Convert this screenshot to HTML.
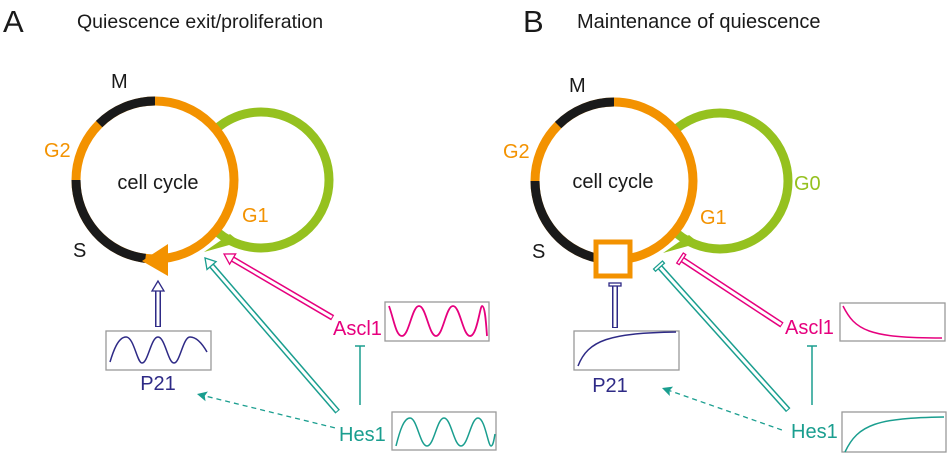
<!DOCTYPE html>
<html><head><meta charset="utf-8"><style>
html,body{margin:0;padding:0;background:#fff;}
svg{display:block;font-family:"Liberation Sans",sans-serif;}
</style></head><body>
<svg width="948" height="454" viewBox="0 0 948 454" xmlns="http://www.w3.org/2000/svg">
<!-- Titles -->
<text x="3" y="32" font-size="31" fill="#1a1a1a">A</text>
<text x="77" y="28" font-size="19.5" fill="#1a1a1a">Quiescence exit/proliferation</text>
<text x="523" y="32" font-size="31" fill="#1a1a1a">B</text>
<text x="577" y="28" font-size="20" fill="#1a1a1a">Maintenance of quiescence</text>

<!-- PANEL A cycle -->
<circle cx="261" cy="180" r="68" fill="none" stroke="#95c11f" stroke-width="9"/>
<path d="M204 252 L230 234 L240 242 Z" fill="#95c11f"/>
<circle cx="155" cy="180" r="79" fill="#fff" stroke="#f39200" stroke-width="9"/>
<path d="M99.1 124.1 A79 79 0 0 1 155 101" fill="none" stroke="#1a1a1a" stroke-width="9"/>
<path d="M76 180 A79 79 0 0 0 145.4 258.4" fill="none" stroke="#1a1a1a" stroke-width="9"/>
<polygon points="142,261 168,244 168,276" fill="#f39200"/>
<text x="111" y="88" font-size="20" fill="#1a1a1a">M</text>
<text x="44" y="157" font-size="20" fill="#f39200">G2</text>
<text x="158" y="189" font-size="20" fill="#1a1a1a" text-anchor="middle">cell cycle</text>
<text x="242" y="222" font-size="20" fill="#f39200">G1</text>
<text x="73" y="257" font-size="20" fill="#1a1a1a">S</text>

<!-- A arrows -->
<g transform="translate(158,281) rotate(-90)">
<line x1="-46" y1="0" x2="-9" y2="0" stroke="#2e2a86" stroke-width="6"/>
<line x1="-45" y1="0" x2="-8" y2="0" stroke="#fff" stroke-width="3"/>
<polygon points="0,0 -10,-6 -10,6" fill="#fff" stroke="#2e2a86" stroke-width="1.3"/>
</g>
<g transform="translate(205,258) rotate(-130.8)">
<line x1="-203" y1="0" x2="-9" y2="0" stroke="#1a9e8f" stroke-width="6"/>
<line x1="-202" y1="0" x2="-8" y2="0" stroke="#fff" stroke-width="3"/>
<polygon points="0,0 -10,-6 -10,6" fill="#fff" stroke="#1a9e8f" stroke-width="1.3"/>
</g>
<g transform="translate(224,254) rotate(-149.6)">
<line x1="-126" y1="0" x2="-9" y2="0" stroke="#e6007e" stroke-width="6"/>
<line x1="-125" y1="0" x2="-8" y2="0" stroke="#fff" stroke-width="3"/>
<polygon points="0,0 -10,-6 -10,6" fill="#fff" stroke="#e6007e" stroke-width="1.3"/>
</g>
<g transform="translate(197,394) rotate(-166.2)">
<line x1="-142" y1="0" x2="-8" y2="0" stroke="#1a9e8f" stroke-width="1.3" stroke-dasharray="5,4"/>
<polygon points="0,0 -10,-5 -8,0 -10,5" fill="#1a9e8f"/>
</g>
<line x1="360" y1="405" x2="360" y2="346" stroke="#1a9e8f" stroke-width="1.5"/>
<line x1="355" y1="346" x2="365" y2="346" stroke="#1a9e8f" stroke-width="1.5"/>

<!-- A boxes -->
<rect x="106" y="331" width="105" height="39" fill="#fff" stroke="#999" stroke-width="1.3"/>
<path d="M110 362 C113 352 118 337 126 337 C134 337 137 363 142 363 C148 363 151 337 158 337 C165 337 168 363 174 363 C180 363 183 337 190 337 C197 337 203 345 207 352" fill="none" stroke="#2e2a86" stroke-width="1.5"/>
<text x="158" y="390" font-size="20" fill="#2e2a86" text-anchor="middle">P21</text>
<rect x="385" y="302" width="104" height="39" fill="#fff" stroke="#999" stroke-width="1.3"/>
<path d="M389 306 C394 320 396 336 402 336 C409 336 412 306 419 306 C426 306 429 336 436 336 C443 336 446 306 453 306 C460 306 463 336 470 336 C477 336 480 306 482 306 C485 306 486 322 487 336" fill="none" stroke="#e6007e" stroke-width="1.8"/>
<text x="333" y="335" font-size="20" fill="#e6007e">Ascl1</text>
<rect x="392" y="412" width="104" height="38" fill="#fff" stroke="#999" stroke-width="1.3"/>
<path d="M396 446 C400 430 404 418 410 418 C417 418 420 446 427 446 C434 446 437 418 444 418 C451 418 454 446 461 446 C468 446 471 418 478 418 C485 418 488 446 491 446 C493 446 494 440 495 434" fill="none" stroke="#1a9e8f" stroke-width="1.5"/>
<text x="339" y="441" font-size="20" fill="#1a9e8f">Hes1</text>

<!-- PANEL B cycle -->
<circle cx="720" cy="181" r="68" fill="none" stroke="#95c11f" stroke-width="9"/>
<path d="M663 253 L689 235 L699 243 Z" fill="#95c11f"/>
<circle cx="614" cy="181" r="79" fill="#fff" stroke="#f39200" stroke-width="9"/>
<path d="M558.1 125.1 A79 79 0 0 1 614 102" fill="none" stroke="#1a1a1a" stroke-width="9"/>
<path d="M535 181 A79 79 0 0 0 604.4 259.4" fill="none" stroke="#1a1a1a" stroke-width="9"/>
<rect x="596" y="242" width="34" height="34" fill="#fff" stroke="#f39200" stroke-width="5"/>
<text x="569" y="92" font-size="20" fill="#1a1a1a">M</text>
<text x="503" y="158" font-size="20" fill="#f39200">G2</text>
<text x="613" y="188" font-size="20" fill="#1a1a1a" text-anchor="middle">cell cycle</text>
<text x="700" y="224" font-size="20" fill="#f39200">G1</text>
<text x="794" y="190" font-size="20" fill="#95c11f">G0</text>
<text x="532" y="258" font-size="20" fill="#1a1a1a">S</text>

<!-- B inhibitors -->
<g transform="translate(615,283) rotate(-90)">
<line x1="-45" y1="0" x2="-2" y2="0" stroke="#2e2a86" stroke-width="6"/>
<line x1="-44" y1="0" x2="-1" y2="0" stroke="#fff" stroke-width="3"/>
<rect x="-3" y="-6" width="3" height="12" fill="#fff" stroke="#2e2a86" stroke-width="1.3"/>
</g>
<g transform="translate(658,265) rotate(-131.9)">
<line x1="-195" y1="0" x2="-2" y2="0" stroke="#1a9e8f" stroke-width="6"/>
<line x1="-194" y1="0" x2="-1" y2="0" stroke="#fff" stroke-width="3"/>
<rect x="-3" y="-6" width="3" height="12" fill="#fff" stroke="#1a9e8f" stroke-width="1.3"/>
</g>
<g transform="translate(680,258) rotate(-146.7)">
<line x1="-122" y1="0" x2="-2" y2="0" stroke="#e6007e" stroke-width="6"/>
<line x1="-121" y1="0" x2="-1" y2="0" stroke="#fff" stroke-width="3"/>
<rect x="-3" y="-6" width="3" height="12" fill="#fff" stroke="#e6007e" stroke-width="1.3"/>
</g>
<g transform="translate(662,388) rotate(-160.7)">
<line x1="-127" y1="0" x2="-8" y2="0" stroke="#1a9e8f" stroke-width="1.3" stroke-dasharray="5,4"/>
<polygon points="0,0 -10,-5 -8,0 -10,5" fill="#1a9e8f"/>
</g>
<line x1="812" y1="405" x2="812" y2="346" stroke="#1a9e8f" stroke-width="1.5"/>
<line x1="807" y1="346" x2="817" y2="346" stroke="#1a9e8f" stroke-width="1.5"/>

<!-- B boxes -->
<rect x="574" y="331" width="105" height="39" fill="#fff" stroke="#999" stroke-width="1.3"/>
<path d="M578 366 C588 340 610 333 676 332" fill="none" stroke="#2e2a86" stroke-width="1.5"/>
<text x="610" y="392" font-size="20" fill="#2e2a86" text-anchor="middle">P21</text>
<rect x="840" y="303" width="105" height="38" fill="#fff" stroke="#999" stroke-width="1.3"/>
<path d="M843 306 C855 330 868 338 942 338" fill="none" stroke="#e6007e" stroke-width="1.5"/>
<text x="785" y="334" font-size="20" fill="#e6007e">Ascl1</text>
<rect x="842" y="412" width="104" height="40" fill="#fff" stroke="#999" stroke-width="1.3"/>
<path d="M845 452 C858 424 878 418 944 417" fill="none" stroke="#1a9e8f" stroke-width="1.5"/>
<text x="791" y="438" font-size="20" fill="#1a9e8f">Hes1</text>
</svg>
</body></html>
